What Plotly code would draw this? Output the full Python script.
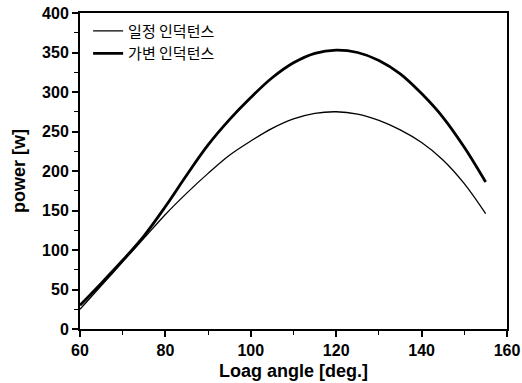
import plotly.graph_objects as go

angle = [60, 65, 70, 75, 80, 85, 90, 95, 100, 105, 110, 115, 120, 125, 130, 135, 140, 145, 150, 155]
power_fixed = [25, 55, 85, 115, 145, 172, 197, 220, 238, 254, 266, 273, 275, 272, 264, 252, 236, 214, 184, 146]
power_variable = [30, 58, 87, 118, 155, 195, 233, 265, 293, 318, 337, 349, 353, 350, 340, 323, 298, 268, 230, 186]

name_fixed = "일정 인덕턴스"
name_variable = "가변 인덕턴스"

fig = go.Figure()
fig.add_trace(go.Scatter(x=angle, y=power_fixed, mode="lines", name=name_fixed,
                         line=dict(color="black", width=1.3, shape="spline")))
fig.add_trace(go.Scatter(x=angle, y=power_variable, mode="lines", name=name_variable,
                         line=dict(color="black", width=2.8, shape="spline")))

tickfont = dict(family="Liberation Sans, Arial, sans-serif", size=16, color="black", weight="bold")
titlefont = dict(family="Liberation Sans, Arial, sans-serif", size=18, color="black", weight="bold")

fig.update_layout(
    width=522, height=383,
    margin=dict(l=80, r=15, t=13, b=54),
    plot_bgcolor="white", paper_bgcolor="white",
    showlegend=True,
    legend=dict(x=0.019, y=0.995, xanchor="left", yanchor="top",
                bgcolor="rgba(0,0,0,0)",
                font=dict(family="Noto Sans CJK KR", size=15, color="black"),
                itemwidth=30, tracegroupgap=0),
    xaxis=dict(range=[60, 160], tickvals=[60, 80, 100, 120, 140, 160],
               automargin=False,
               showgrid=False, zeroline=False,
               showline=True, linecolor="black", linewidth=2, mirror=True,
               ticks="outside", ticklen=6, tickwidth=1.5, tickcolor="black",
               minor=dict(ticks="outside", ticklen=4, tickwidth=1, tickcolor="black", dtick=10),
               tickfont=tickfont,
               title=dict(text="Loag angle [deg.]", font=titlefont, standoff=6)),
    yaxis=dict(range=[0, 400], tickvals=[0, 50, 100, 150, 200, 250, 300, 350, 400],
               automargin=False,
               showgrid=False, zeroline=False,
               showline=True, linecolor="black", linewidth=2, mirror=True,
               ticks="outside", ticklen=6, tickwidth=1.5, tickcolor="black",
               minor=dict(ticks="outside", ticklen=4, tickwidth=1, tickcolor="black", dtick=25),
               tickfont=tickfont,
               title=dict(text="power [w]", font=titlefont, standoff=12)),
)

fig.write_html("out.html")
